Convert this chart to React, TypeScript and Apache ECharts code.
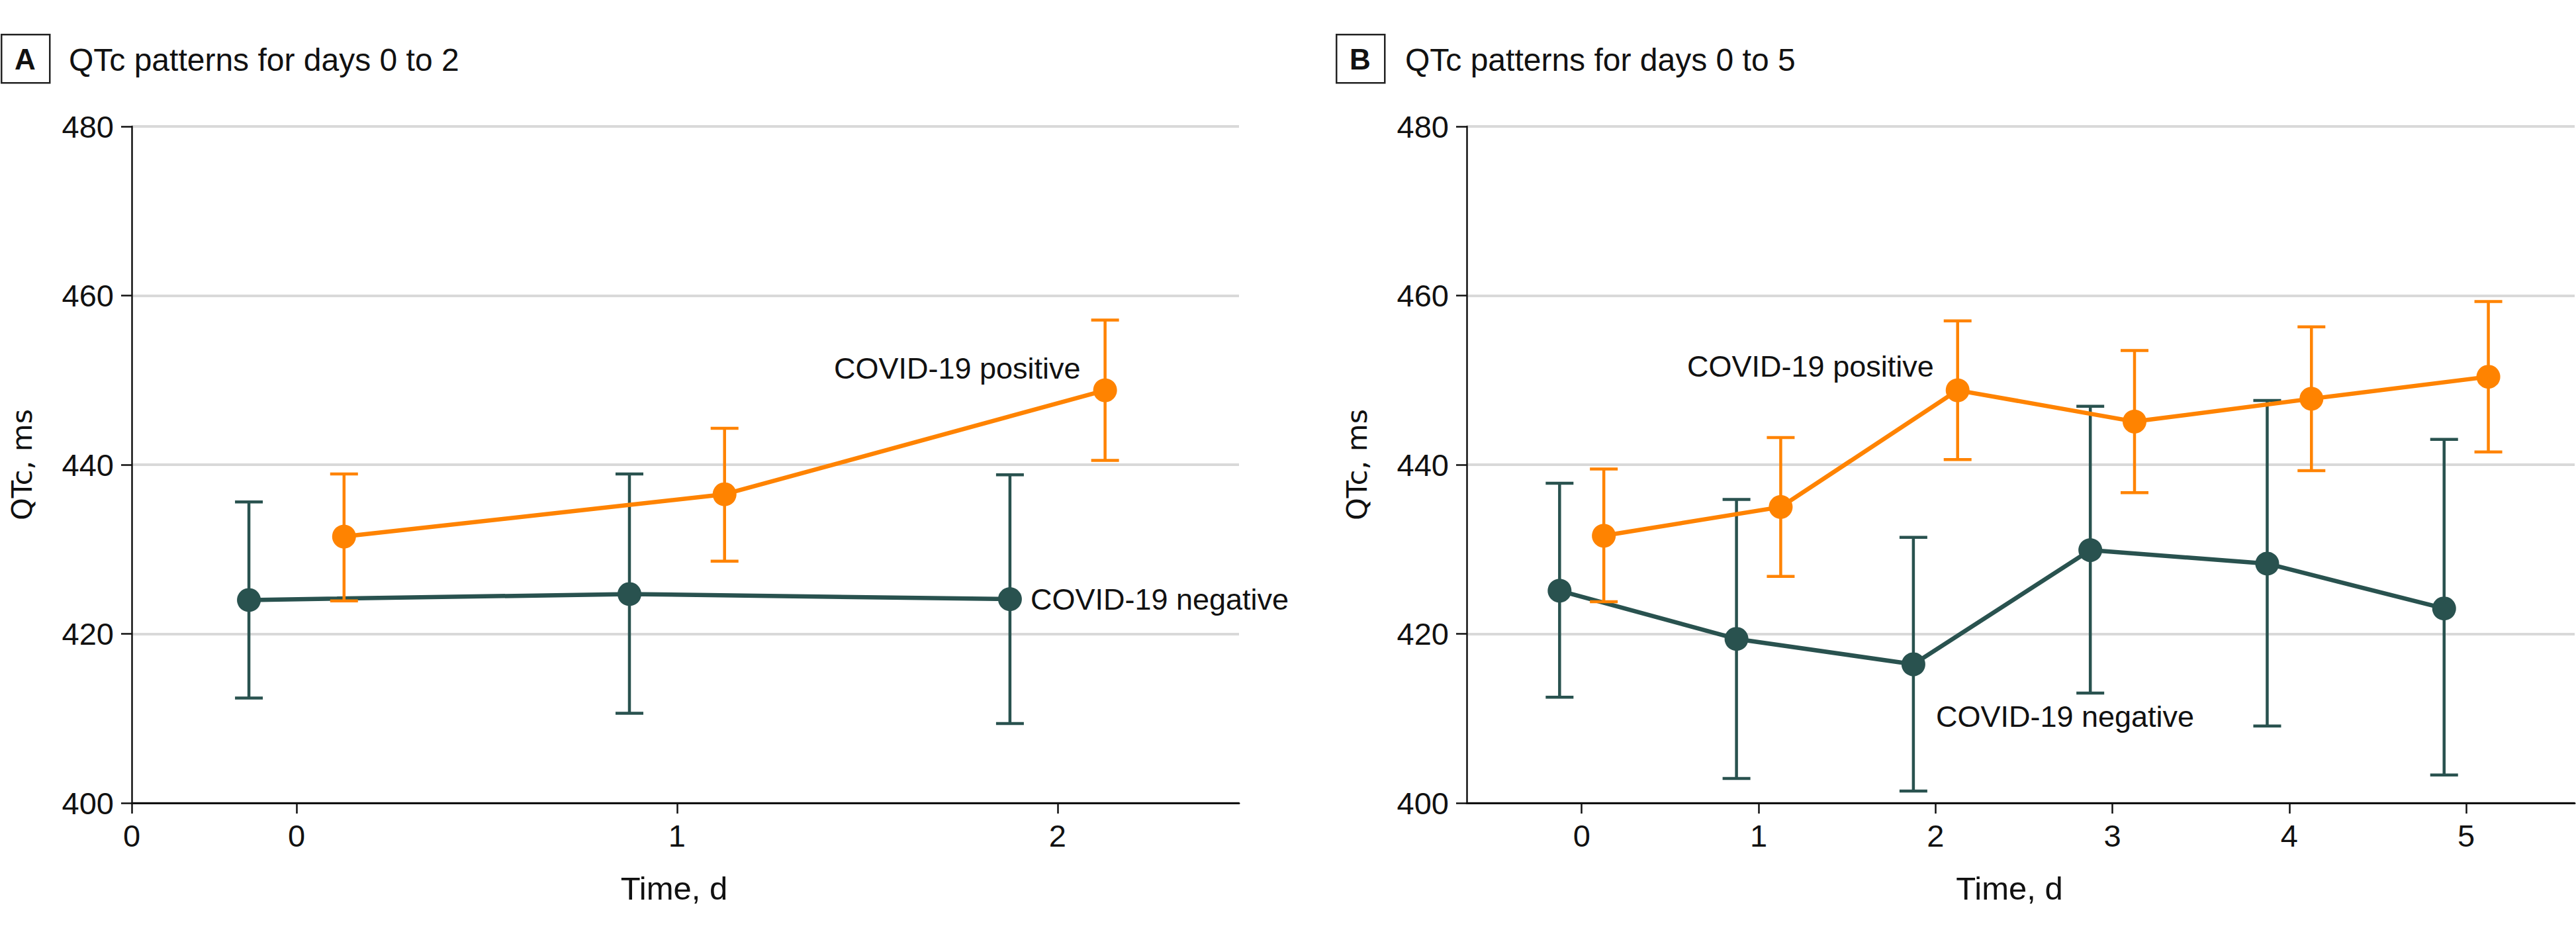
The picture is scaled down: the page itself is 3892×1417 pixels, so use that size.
import React, { useEffect, useRef } from "react";
import * as echarts from "echarts";

// ---- Data ----
const DAYS_A = [0, 1, 2];
const NEG_A_MEAN = [424.0, 424.7, 424.1];
const NEG_A_LOW = [412.4, 410.6, 409.4];
const NEG_A_HIGH = [435.6, 438.9, 438.8];
const POS_A_MEAN = [431.5, 436.5, 448.8];
const POS_A_LOW = [423.9, 428.6, 440.5];
const POS_A_HIGH = [438.9, 444.3, 457.1];

const DAYS_B = [0, 1, 2, 3, 4, 5];
const NEG_B_MEAN = [425.1, 419.4, 416.4, 429.9, 428.3, 423.0];
const NEG_B_LOW = [412.5, 402.9, 401.4, 413.0, 409.1, 403.3];
const NEG_B_HIGH = [437.8, 435.9, 431.4, 446.9, 447.6, 443.0];
const POS_B_MEAN = [431.6, 435.0, 448.8, 445.1, 447.8, 450.4];
const POS_B_LOW = [423.8, 426.8, 440.6, 436.7, 439.3, 441.5];
const POS_B_HIGH = [439.5, 443.2, 457.0, 453.5, 456.3, 459.3];

// x-axis tick positions and labels (panel A has an extra "0" at the axis origin)
const X_MIN_A = -0.433;
const X_MAX_A = 2.477;
const TICKS_A = [X_MIN_A, 0, 1, 2];
const TICK_LABELS_A = ["0", "0", "1", "2"];
const X_MIN_B = -0.65;
const X_MAX_B = 5.613;
const TICKS_B = [0, 1, 2, 3, 4, 5];
const TICK_LABELS_B = ["0", "1", "2", "3", "4", "5"];
const Y_MIN = 400;
const Y_MAX = 480;
const Y_STEP = 20;

const TITLE_A = "QTc patterns for days 0 to 2";
const TITLE_B = "QTc patterns for days 0 to 5";
const LABEL_POS = "COVID-19 positive";
const LABEL_NEG = "COVID-19 negative";
const X_NAME = "Time, d";
const Y_NAME = "QTc, ms";

// ---- Styles ----
const ORANGE = "#FF8300";
const TEAL = "#29524F";
const GRID = "#D9D9D9";
const INK = "#111111";
const FONT = "'Liberation Sans', Arial, sans-serif";
const OFF = 0.125;

function errSeries(days: number[], lo: number[], hi: number[], shift: number, color: string, idx: number, z: number) {
  return {
    type: "custom",
    xAxisIndex: idx,
    yAxisIndex: idx,
    z,
    silent: true,
    encode: { x: 0, y: [1, 2] },
    data: days.map((d, i) => [d + shift, lo[i], hi[i]]),
    renderItem: (params: any, api: any) => {
      const x = api.value(0);
      const top = api.coord([x, api.value(2)]);
      const bot = api.coord([x, api.value(1)]);
      const hw = 21;
      const style = { stroke: color, lineWidth: 4.5, fill: "none" };
      return {
        type: "group",
        children: [
          { type: "line", shape: { x1: top[0], y1: top[1], x2: bot[0], y2: bot[1] }, style },
          { type: "line", shape: { x1: top[0] - hw, y1: top[1], x2: top[0] + hw, y2: top[1] }, style },
          { type: "line", shape: { x1: bot[0] - hw, y1: bot[1], x2: bot[0] + hw, y2: bot[1] }, style },
        ],
      };
    },
  };
}

function lineSeries(days: number[], mean: number[], shift: number, color: string, idx: number, z: number, labelIdx: number, label: any) {
  return {
    type: "line",
    xAxisIndex: idx,
    yAxisIndex: idx,
    z,
    silent: true,
    symbol: "circle",
    symbolSize: 36,
    lineStyle: { color, width: 6.5 },
    itemStyle: { color },
    data: days.map((d, i) => {
      const item: any = { value: [d + shift, mean[i]] };
      if (i === labelIdx) item.label = { show: true, ...label };
      return item;
    }),
  };
}

const labelStyle = { fontFamily: FONT, fontSize: 45, color: INK };

function xAxis(idx: number, min: number, max: number, ticks: number[], labels: string[]) {
  return {
    type: "value",
    gridIndex: idx,
    min,
    max,
    axisLine: { show: true, onZero: false, lineStyle: { color: INK, width: 3 } },
    axisTick: { show: true, length: 16, lineStyle: { color: INK, width: 2.5 }, customValues: ticks },
    axisLabel: {
      show: true,
      customValues: ticks,
      margin: 26,
      fontFamily: FONT,
      fontSize: 47,
      color: INK,
      formatter: (v: number) => {
        const k = ticks.findIndex((t) => Math.abs(t - v) < 1e-6);
        return k >= 0 ? labels[k] : "";
      },
    },
    splitLine: { show: false },
    name: X_NAME,
    nameLocation: "middle",
    nameGap: 104,
    nameTextStyle: { fontFamily: FONT, fontSize: 49, color: INK, padding: [0, 34, 0, 0] },
  };
}

function yAxis(idx: number) {
  return {
    type: "value",
    gridIndex: idx,
    min: Y_MIN,
    max: Y_MAX,
    interval: Y_STEP,
    axisLine: { show: true, onZero: false, lineStyle: { color: INK, width: 2.5 } },
    axisTick: { show: true, length: 16, lineStyle: { color: INK, width: 2.5 } },
    axisLabel: { margin: 27, fontFamily: FONT, fontSize: 47, color: INK },
    splitLine: { show: true, lineStyle: { color: GRID, width: 4 } },
    name: Y_NAME,
    nameLocation: "middle",
    nameRotate: 90,
    nameGap: 145,
    nameTextStyle: { fontFamily: "'DejaVu Sans', sans-serif", fontSize: 43, color: INK },
  };
}

function titleGraphics(boxX: number, letter: string, textX: number, text: string) {
  return [
    {
      type: "rect",
      left: boxX,
      top: 51,
      shape: { width: 73, height: 73 },
      style: { fill: "#fff", stroke: "#222", lineWidth: 2.5 },
    },
    {
      type: "text",
      x: boxX + 37,
      y: 89,
      style: { text: letter, font: `bold 44px ${FONT}`, fill: INK, textAlign: "center", textVerticalAlign: "middle" },
    },
    {
      type: "text",
      x: textX,
      y: 90,
      style: { text, font: `48px ${FONT}`, fill: INK, textAlign: "left", textVerticalAlign: "middle" },
    },
  ];
}

const option: any = {
  animation: false,
  backgroundColor: "#ffffff",
  grid: [
    { left: 199, top: 191, width: 1673, height: 1022 },
    { left: 2216, top: 191, width: 1674, height: 1022 },
  ],
  xAxis: [xAxis(0, X_MIN_A, X_MAX_A, TICKS_A, TICK_LABELS_A), xAxis(1, X_MIN_B, X_MAX_B, TICKS_B, TICK_LABELS_B)],
  yAxis: [yAxis(0), yAxis(1)],
  graphic: [...titleGraphics(1, "A", 104, TITLE_A), ...titleGraphics(2018, "B", 2123, TITLE_B)],
  series: [
    errSeries(DAYS_A, NEG_A_LOW, NEG_A_HIGH, -OFF, TEAL, 0, 2),
    lineSeries(DAYS_A, NEG_A_MEAN, -OFF, TEAL, 0, 3, 2, {
      formatter: LABEL_NEG, position: "right", distance: 13, ...labelStyle,
    }),
    errSeries(DAYS_A, POS_A_LOW, POS_A_HIGH, OFF, ORANGE, 0, 4),
    lineSeries(DAYS_A, POS_A_MEAN, OFF, ORANGE, 0, 5, 2, {
      formatter: LABEL_POS, position: "left", distance: 19, offset: [0, -33], ...labelStyle,
    }),
    errSeries(DAYS_B, NEG_B_LOW, NEG_B_HIGH, -OFF, TEAL, 1, 2),
    lineSeries(DAYS_B, NEG_B_MEAN, -OFF, TEAL, 1, 3, 2, {
      formatter: LABEL_NEG, position: "right", distance: 16, offset: [0, 79], ...labelStyle,
    }),
    errSeries(DAYS_B, POS_B_LOW, POS_B_HIGH, OFF, ORANGE, 1, 4),
    lineSeries(DAYS_B, POS_B_MEAN, OFF, ORANGE, 1, 5, 2, {
      formatter: LABEL_POS, position: "left", distance: 18, offset: [0, -36], ...labelStyle,
    }),
  ],
};

export default function App() {
  const ref = useRef<HTMLDivElement>(null);
  useEffect(() => {
    const chart = echarts.init(ref.current!, null, { renderer: "svg" });
    chart.setOption(option);
    return () => chart.dispose();
  }, []);
  return (
    <div
      ref={ref}
      style={{ position: "fixed", left: 0, top: 0, width: 3892, height: 1417, background: "#fff" }}
    />
  );
}
